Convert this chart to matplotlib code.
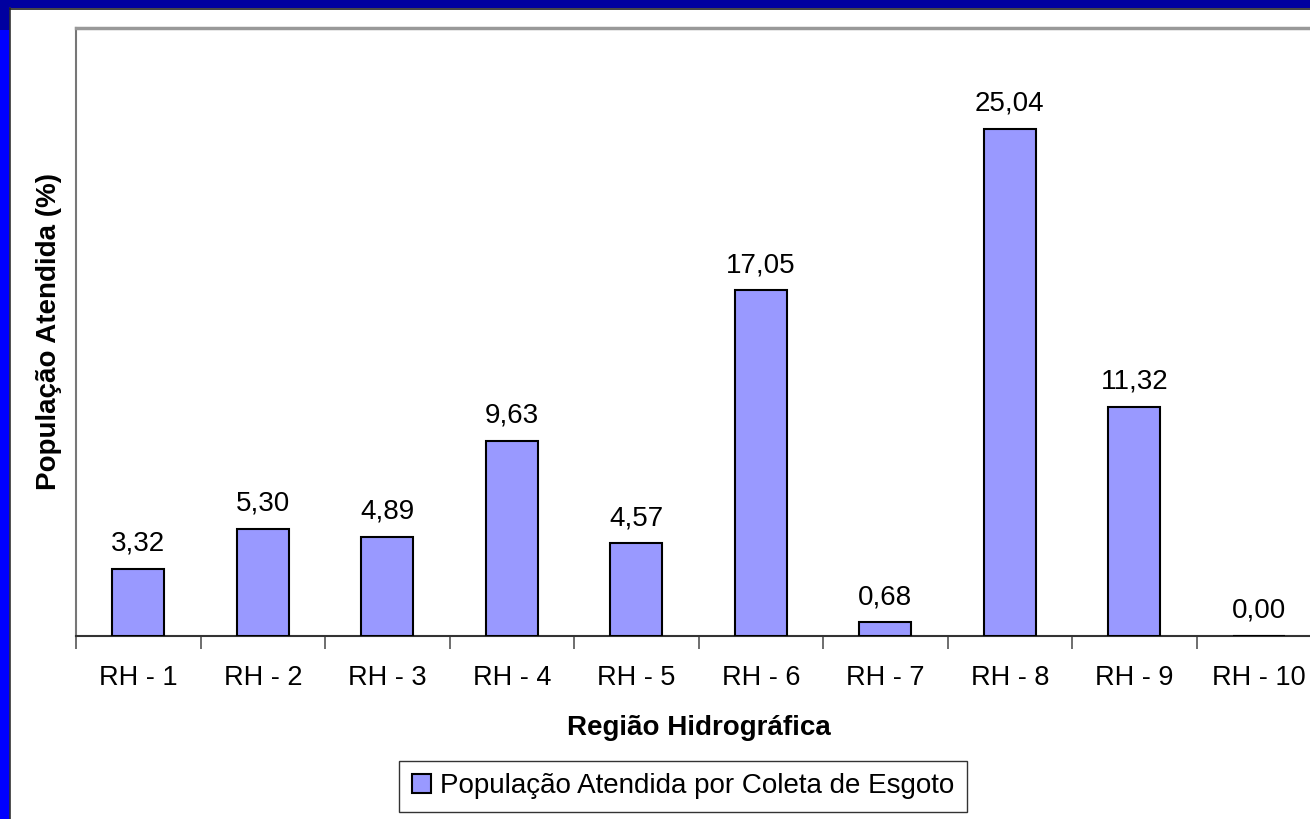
import matplotlib.pyplot as plt
from matplotlib.patches import Rectangle

regioes = ['RH - 1', 'RH - 2', 'RH - 3', 'RH - 4', 'RH - 5',
           'RH - 6', 'RH - 7', 'RH - 8', 'RH - 9', 'RH - 10']
valores = [3.32, 5.30, 4.89, 9.63, 4.57, 17.05, 0.68, 25.04, 11.32, 0.00]
rotulos = ['3,32', '5,30', '4,89', '9,63', '4,57', '17,05', '0,68', '25,04', '11,32', '0,00']

plt.rcParams['font.family'] = ['Liberation Sans', 'DejaVu Sans']

W, H = 1310, 819
fig = plt.figure(figsize=(W / 100, H / 100), dpi=100)
fig.patch.set_facecolor('white')

# moldura azul (faixa do slide)
fig.patches.append(Rectangle((0, 0), 10 / W, 1, transform=fig.transFigure,
                             facecolor='#0000FF', edgecolor='none', zorder=0))
fig.patches.append(Rectangle((0, 1 - 8 / H), 1, 8 / H, transform=fig.transFigure,
                             facecolor='#0000A0', edgecolor='none', zorder=0))
fig.patches.append(Rectangle((0, 1 - 30 / H), 10 / W, 30 / H, transform=fig.transFigure,
                             facecolor='#0000A0', edgecolor='none', zorder=0))
fig.lines.append(plt.Line2D([10 / W, 10 / W], [0, 1 - 8 / H], transform=fig.transFigure,
                            color='#333333', lw=1.2))
fig.lines.append(plt.Line2D([10 / W, 1], [1 - 8.5 / H, 1 - 8.5 / H], transform=fig.transFigure,
                            color='#222222', lw=1.2))

ax = fig.add_axes([76 / W, 183 / H, 1245 / W, 608 / H])
x = range(len(regioes))
ax.bar(x, valores, width=0.42, color='#9999FF', edgecolor='black', linewidth=1.5, zorder=3,
       label='População Atendida por Coleta de Esgoto')
for i, (v, r) in enumerate(zip(valores, rotulos)):
    ax.text(i, v + 0.6, r, ha='center', va='bottom', fontsize=20)

ax.set_xlim(-0.5, len(regioes) - 0.5)
ax.set_ylim(0, 30)
ax.set_yticks([])
ax.set_xticks([i + 0.5 for i in range(-1, len(regioes))], minor=False)
ax.set_xticklabels([''] * (len(regioes) + 1))
ax.tick_params(axis='x', length=9, width=1.2, color='#555555')
ax.set_xticks(list(x), minor=True)
ax.set_xticklabels(regioes, minor=True, fontsize=19.5)
ax.tick_params(axis='x', which='minor', length=0, pad=21)

ax.spines['right'].set_visible(False)
ax.spines['top'].set_color('#999999')
ax.spines['top'].set_linewidth(2.5)
ax.spines['left'].set_color('#777777')
ax.spines['left'].set_linewidth(1.5)
ax.spines['bottom'].set_color('#333333')
ax.spines['bottom'].set_linewidth(1.5)

ax.set_xlabel('Região Hidrográfica', fontsize=20, fontweight='bold', labelpad=17)
ax.set_ylabel('População Atendida (%)', fontsize=20, fontweight='bold', labelpad=10)

leg = fig.legend(loc='center', bbox_to_anchor=(683 / W, 1 - 786 / H), fontsize=20,
                 frameon=True, fancybox=False, edgecolor='black', handlelength=0.7,
                 handleheight=0.7, handletextpad=0.3, borderpad=0.45, borderaxespad=0)
leg.get_frame().set_linewidth(1.0)

plt.savefig('out.png', dpi=100)
